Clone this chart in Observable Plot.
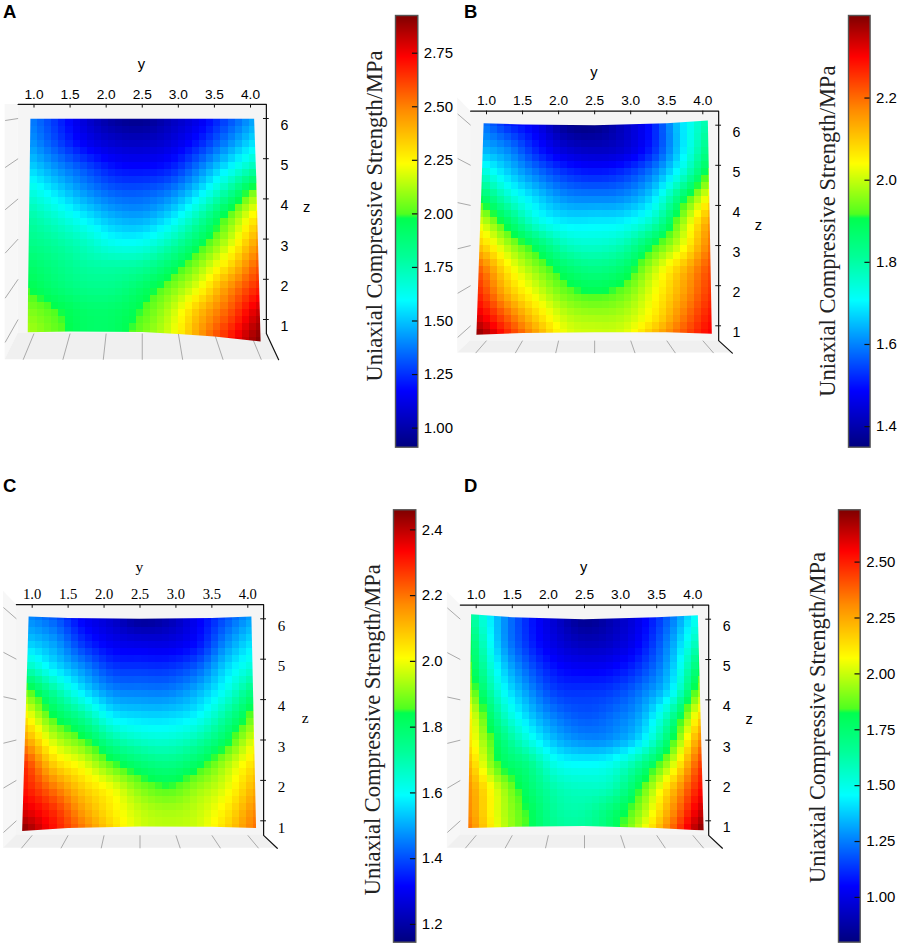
<!DOCTYPE html>
<html><head><meta charset="utf-8">
<script src="https://cdn.jsdelivr.net/npm/d3@7"></script>
<script src="https://cdn.jsdelivr.net/npm/@observablehq/plot@0.6"></script>
<style>
html,body{margin:0;padding:0;background:#fff}
#page{position:relative;width:899px;height:945px;overflow:hidden}
#page>svg,#page>div{position:absolute}
.letter{font:bold 18.5px "Liberation Sans",sans-serif;color:#000;line-height:1}
</style></head><body><div id="page"></div>
<script>
const sampleY = [0.85,1.3,1.7,2.1,2.5,2.9,3.3,3.7,4.15];
const sampleZ = [6.15,5.4,4.8,4.2,3.6,3,2.4,1.8,1.2,0.7];
const yTicks = [1,1.5,2,2.5,3,3.5,4];
const zTicks = [1,2,3,4,5,6];
const floorLean = [-0.15,-0.1,-0.04,0,0.06,0.12,0.15];
const barTitle = "Uniaxial Compressive Strength/MPa";

const strengthA = [
[1.40,1.25,1.08,0.95,0.92,1.02,1.12,1.28,1.45],
[1.45,1.30,1.15,1.07,1.05,1.10,1.22,1.40,1.58],
[1.55,1.42,1.30,1.20,1.18,1.22,1.38,1.58,1.78],
[1.68,1.55,1.42,1.33,1.32,1.38,1.55,1.80,2.10],
[1.78,1.68,1.56,1.46,1.44,1.54,1.75,2.02,2.30],
[1.84,1.78,1.70,1.60,1.60,1.72,1.92,2.15,2.45],
[1.92,1.85,1.78,1.76,1.78,1.90,2.08,2.30,2.58],
[1.99,1.90,1.84,1.84,1.92,2.05,2.22,2.47,2.68],
[2.08,2.00,1.92,1.92,2.00,2.15,2.38,2.58,2.82],
[2.14,2.04,1.93,1.93,2.06,2.20,2.46,2.70,2.92]];
const strengthB = [
[1.60,1.51,1.46,1.36,1.35,1.42,1.51,1.68,1.81],
[1.65,1.60,1.51,1.44,1.42,1.44,1.52,1.68,1.865],
[1.77,1.67,1.59,1.53,1.51,1.53,1.60,1.74,1.94],
[1.90,1.76,1.67,1.61,1.60,1.61,1.68,1.865,2.06],
[2.02,1.875,1.74,1.69,1.69,1.70,1.77,1.96,2.16],
[2.11,1.98,1.875,1.78,1.76,1.79,1.90,2.02,2.20],
[2.22,2.06,1.96,1.875,1.84,1.875,1.99,2.11,2.24],
[2.27,2.12,2.02,1.94,1.91,1.94,2.03,2.14,2.26],
[2.33,2.21,2.09,2.00,1.98,1.99,2.06,2.18,2.29],
[2.40,2.27,2.15,2.03,2.01,2.02,2.12,2.22,2.31]];
const strengthC = [
[1.47,1.41,1.30,1.24,1.16,1.20,1.30,1.40,1.50],
[1.55,1.49,1.37,1.30,1.28,1.28,1.33,1.47,1.58],
[1.70,1.57,1.47,1.38,1.37,1.37,1.42,1.55,1.66],
[1.90,1.72,1.57,1.47,1.455,1.455,1.51,1.62,1.79],
[2.04,1.84,1.72,1.58,1.55,1.55,1.59,1.72,1.90],
[2.16,1.96,1.86,1.72,1.66,1.65,1.70,1.82,2.00],
[2.29,2.08,1.99,1.87,1.79,1.76,1.82,1.935,2.07],
[2.32,2.20,2.08,2.00,1.90,1.86,1.92,1.99,2.13],
[2.38,2.29,2.15,2.04,1.96,1.935,1.96,2.04,2.185],
[2.46,2.32,2.20,2.07,1.97,1.95,1.97,2.07,2.21]];
const strengthD = [
[1.71,1.34,1.11,0.95,0.82,0.90,1.03,1.23,1.52],
[1.83,1.36,1.13,0.99,0.92,0.95,1.07,1.30,1.65],
[1.88,1.44,1.21,1.07,1.03,1.05,1.15,1.36,1.81],
[1.98,1.53,1.30,1.15,1.13,1.15,1.25,1.44,1.96],
[2.12,1.65,1.40,1.25,1.19,1.23,1.34,1.65,2.17],
[2.15,1.77,1.53,1.35,1.28,1.30,1.44,1.81,2.33],
[2.25,1.84,1.70,1.50,1.46,1.50,1.69,2.00,2.46],
[2.31,2.00,1.77,1.61,1.57,1.61,1.86,2.19,2.54],
[2.33,2.02,1.83,1.65,1.63,1.75,1.96,2.29,2.64],
[2.37,2.04,1.83,1.67,1.65,1.77,2.04,2.37,2.73]];

const edgeA = {y:[0.95,2.5,4.05,4.08,4.14,3.5,3.0,2.5,1.5,0.91], z:[6,6,6,4.5,0.45,0.58,0.64,0.69,0.70,0.68]};
const edgeB = {y:[0.96,1.5,2.5,3.5,4.07,4.125,3.5,2.5,1.5,0.86], z:[6.05,6.02,6.0,6.05,6.12,0.80,0.84,0.84,0.82,0.775]};
const edgeC = {y:[0.95,1.5,2.49,3.5,4.05,4.115,3.5,2.49,1.5,0.86], z:[6.06,6.02,6.0,6.02,6.06,0.82,0.85,0.86,0.82,0.75]};
const edgeD = {y:[0.93,1.5,2.49,3.5,4.07,4.15,3.5,2.49,1.5,0.89], z:[6.12,6.05,6.0,6.05,6.10,0.76,0.82,0.87,0.85,0.82]};

const rampStops = [0,0.13,0.34,0.44,0.53,0.54,0.657,0.78,0.905,1];
const rampColors = ["#00007f","#0000ff","#00ffff","#00ff99","#00ff50","#50ff20","#ffff00","#ff8c00","#ff0000","#7f0000"];

const wallLean = {flat:[-0.57,-0.47,-0.35,-0.27,-0.22,-0.05],
                  tilt:[-0.29,-0.19,-0.08,0.07,0.17,0.28]};

const panels = [
 {id:"A",left:0,top:0,w:340,h:400,x1:33.5,x4:250,z6:118,z1:319,axisTop:104,axisRight:266,zEnd:0.65,zBot:0,lean:wallLean.flat,outTop:6.35,outBot:0,values:strengthA,edge:edgeA,
  min:0.911,max:2.926,font:"Liberation Sans",fs:13.7,fz:14.2,yAt:7.34,zAt:[4.78,3.79],
  letter:[3,3],bar:{left:395,right:417.3,top:15,bottom:446.7,ticks:[1,1.25,1.5,1.75,2,2.25,2.5,2.75],fmt:".2f",titleAt:1.99,top0:0,h:460}},
 {id:"B",left:445,top:0,w:340,h:400,x1:486,x4:702.3,z6:124.7,z1:325.3,axisTop:110,axisRight:718,zEnd:0.63,zBot:0.32,lean:wallLean.tilt,outTop:6.68,outBot:0.32,values:strengthB,edge:edgeB,
  min:1.35,max:2.401,font:"Liberation Sans",fs:13.7,fz:14.2,yAt:7.32,zAt:[4.77,3.5],
  letter:[464,3],bar:{left:847.7,right:869.3,top:15,bottom:446.7,ticks:[1.4,1.6,1.8,2,2.2],fmt:".1f",titleAt:1.876,top0:0,h:460}},
 {id:"C",left:0,top:480,w:340,h:400,x1:31.7,x4:247.3,z6:618.3,z1:820.3,axisTop:604.3,axisRight:263.3,zEnd:0.64,zBot:0.32,lean:wallLean.tilt,outTop:6.68,outBot:0.32,values:strengthC,edge:edgeC,
  min:1.146,max:2.461,font:"Liberation Serif",fs:14.6,fz:15,yAt:7.27,zAt:[4.8,3.55],
  letter:[3,477],bar:{left:392.7,right:415,top:509.3,bottom:941.7,ticks:[1.2,1.4,1.6,1.8,2,2.2,2.4],fmt:".1f",titleAt:1.792,top0:490,h:455}},
 {id:"D",left:440,top:480,w:340,h:400,x1:475.7,x4:692.3,z6:618.7,z1:820.3,axisTop:604.3,axisRight:708.3,zEnd:0.64,zBot:0.32,lean:wallLean.tilt,outTop:6.68,outBot:0.32,values:strengthD,edge:edgeD,
  min:0.80,max:2.734,font:"Liberation Sans",fs:13.7,fz:14.2,yAt:7.29,zAt:[4.78,3.53],
  letter:[464,477],bar:{left:838.3,right:860,top:509.3,bottom:941.7,ticks:[1,1.25,1.5,1.75,2,2.25,2.5],fmt:".2f",titleAt:1.805,top0:490,h:455}}
];

// Raster interpolator: smooth (Catmull-Rom) rendering of the read-off sample grid.
function gridInterpolator(nCol,nRow){
  return (index,w,h,X,Y,V)=>{
    const cols=d3.range(nCol).map(j=>X[index[j]]);
    const rows=d3.range(nRow).map(i=>Y[index[i*nCol]]);
    const locate=(a,p)=>{
      const s=Math.sign(a[1]-a[0]);
      let i=0;
      while(i<a.length-2 && s*(p-a[i+1])>0) i++;
      return [i,Math.max(0,Math.min(1,(p-a[i])/(a[i+1]-a[i])))];
    };
    const clampTo=(k,n)=>Math.max(0,Math.min(n-1,k));
    const val=(i,j)=>V[index[clampTo(i,nRow)*nCol+clampTo(j,nCol)]];
    const cr=(a,b,c,d,t)=>0.5*(2*b+(c-a)*t+(2*a-5*b+4*c-d)*t*t+(3*b-a-3*c+d)*t*t*t);
    const W=new Array(w*h);
    for(let py=0;py<h;py++){
      const [i,ty]=locate(rows,py+0.5);
      for(let px=0;px<w;px++){
        const [j,tx]=locate(cols,px+0.5);
        const r=[-1,0,1,2].map(di=>cr(val(i+di,j-1),val(i+di,j),val(i+di,j+1),val(i+di,j+2),tx));
        W[py*w+px]=cr(r[0],r[1],r[2],r[3],ty);
      }
    }
    return W;
  };
}

const page = document.getElementById("page");
const colorOf = p => ({type:"linear",interpolate:"rgb",
  domain:rampStops.map(f=>p.min+f*(p.max-p.min)),range:rampColors});

for (const p of panels) {
  const points = [];
  const rowZ = p.id==="A" ? sampleZ.map((z,i)=>i===sampleZ.length-1?0.45:z) : sampleZ;
  p.values.forEach((row,i)=>row.forEach((v,j)=>points.push({y:sampleY[j],z:rowZ[i],v})));
  const yIn=0.78,yOut=0.6,yR=4.22,yDiag=p.id==="A"?4.39:4.41,zTop=6.35;
  const svg = Plot.plot({
    width:p.w,height:p.h,
    marginTop:p.axisTop-p.top,marginRight:p.w-(p.axisRight-p.left),marginLeft:0,marginBottom:0,
    style:{background:"transparent",overflow:"visible"},
    x:{domain:[1,4],range:[p.x1-p.left,p.x4-p.left],axis:null},
    y:{domain:[1,6],range:[p.z1-p.top,p.z6-p.top],axis:null},
    color:colorOf(p),
    marks:[
      Plot.area([{x1:yOut,y1:p.outBot,x2:yOut,y2:p.outTop},{x1:yIn,y1:p.zEnd,x2:yIn,y2:zTop}],
        {x1:"x1",y1:"y1",x2:"x2",y2:"y2",fill:"#f7f7f7"}),
      Plot.rect([0],{x1:yIn,x2:yR,y1:p.zEnd,y2:zTop,fill:"#f5f5f5",inset:0}),
      Plot.area([{x1:yIn,x2:yR,y:p.zEnd},{x1:yOut,x2:yDiag,y:p.zBot}],
        {x1:"x1",x2:"x2",y1:"y",y2:"y",fill:"#f0f0f0"}),
      Plot.link(zTicks,{x1:yIn,x2:yOut,y1:d=>d,y2:(d,i)=>d+p.lean[i],stroke:"#aaa",strokeWidth:1}),
      Plot.link(yTicks,{x1:d=>d,x2:(d,i)=>d+floorLean[i],y1:p.zEnd,y2:p.zBot,stroke:"#aaa",strokeWidth:1}),
      Plot.raster(points,{x:"y",y:"z",fill:"v",x1:0.85,x2:4.17,y1:0.4,y2:6.15,
        interpolate:gridInterpolator(sampleY.length,sampleZ.length),pixelSize:7,imageRendering:"pixelated"}),
      Plot.line([[yIn,zTop],[yR,zTop],[yR,p.zEnd],[yDiag,p.zBot]],{stroke:"#111",strokeWidth:1.2}),
      Plot.ruleX(yTicks,{y1:zTop,y2:zTop-0.09,stroke:"#111",strokeWidth:1}),
      Plot.ruleY(zTicks,{x1:yR-0.04,x2:yR+0.04,stroke:"#111",strokeWidth:1}),
      Plot.axisX(yTicks,{anchor:"top",tickSize:0,tickPadding:6,tickFormat:d3.format(".1f"),label:null,
        fontSize:p.fs,fontFamily:p.font,fill:"#000"}),
      Plot.axisY(zTicks,{anchor:"right",tickSize:0,tickPadding:14,tickFormat:d3.format("d"),label:null,dy:7,
        fontSize:p.fz,fontFamily:p.font,fill:"#000"}),
      Plot.text(["y"],{x:[2.49],y:[p.yAt],text:d=>d,fontSize:p.fs+1,fontFamily:p.font,fill:"#000"}),
      Plot.text(["z"],{x:[p.zAt[0]],y:[p.zAt[1]],text:d=>d,fontSize:p.fs+1,fontFamily:p.font,fill:"#000"})
    ]
  });
  svg.style.left=p.left+"px";svg.style.top=p.top+"px";
  const sx=svg.scale("x"),sy=svg.scale("y");
  const outline=p.edge.y.map((y,i)=>[sx.apply(y),sy.apply(p.edge.z[i])]);
  const clipId="surface"+p.id;
  d3.select(svg).append("defs").append("clipPath").attr("id",clipId).attr("clipPathUnits","userSpaceOnUse")
    .append("path").attr("d",d3.line()(outline)+"Z");
  svg.querySelector("image").parentNode.setAttribute("clip-path",`url(#${clipId})`);
  page.appendChild(svg);

  const b=p.bar,barW=b.right-b.left,L=b.left-44,W=barW+44+36;
  const bar=Plot.plot({
    width:W,height:b.h,marginLeft:44,marginRight:36,
    marginTop:b.top-b.top0,marginBottom:b.h-(b.bottom-b.top0),
    style:{background:"transparent",overflow:"visible"},
    x:{domain:[0,1],axis:null},
    y:{domain:[p.min,p.max],axis:null},
    color:colorOf(p),
    marks:[
      Plot.raster({fill:(x,y)=>y,x1:0,x2:1,y1:p.min,y2:p.max,pixelSize:1}),
      Plot.frame({stroke:"#555",strokeWidth:1.4}),
      Plot.ruleY(b.ticks,{x1:0.76,x2:1,stroke:"#111",strokeWidth:1.2}),
      Plot.axisY(b.ticks,{anchor:"right",tickSize:0,tickPadding:6,tickFormat:d3.format(b.fmt),label:null,
        fontSize:15,fontFamily:"Liberation Sans",fill:"#000"}),
      Plot.text([barTitle],{x:[-21/barW],y:[b.titleAt],text:d=>d,rotate:-90,fontSize:22.5,fontFamily:"Liberation Serif",fill:"#222"})
    ]
  });
  bar.style.left=L+"px";bar.style.top=b.top0+"px";
  page.appendChild(bar);

  const lab=document.createElement("div");
  lab.className="letter";lab.textContent=p.id;
  lab.style.left=p.letter[0]+"px";lab.style.top=p.letter[1]+"px";
  page.appendChild(lab);
}
</script></body></html>
